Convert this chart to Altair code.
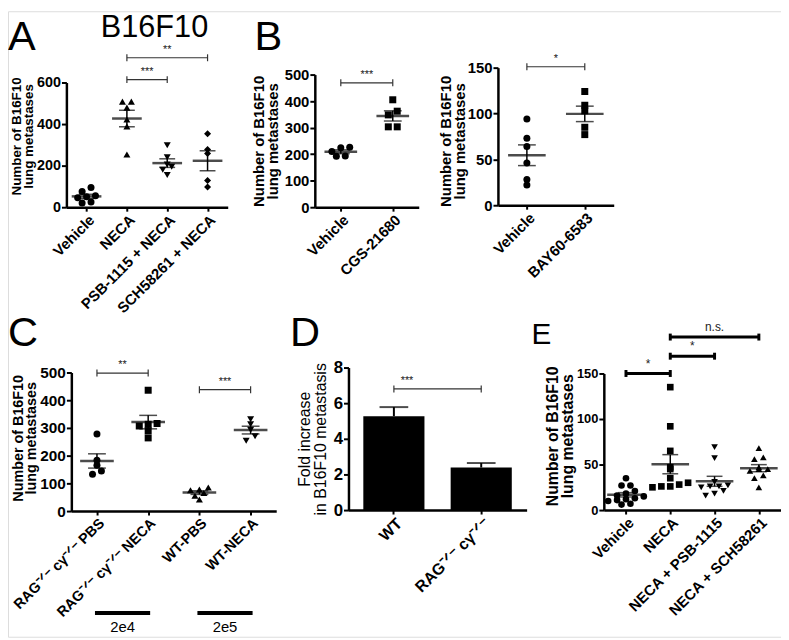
import json
import altair as alt
import pandas as pd

FONT = "Liberation Sans"
W, H = 781, 632

# ---------------- data ----------------
# Panel A
a_cats = ["Vehicle", "NECA", "PSB-1115 + NECA", "SCH58261 + NECA"]
a_vehicle = [75, 95, 55, 50, 20, 25, 45]
a_neca = [508, 508, 479, 422, 389, 254]
a_psb = [298, 240, 205, 195, 180, 155]
a_sch = [354, 278, 259, 129, 97]
a_br_from = ["NECA", "NECA"]
a_br_to = ["PSB-1115 + NECA", "SCH58261 + NECA"]
a_br_y = [614, 719]
a_br_lab = ["***", "**"]

# Panel B (left)
bl_cats = ["Vehicle", "CGS-21680"]
bl_vehicle = [226, 224, 210, 193, 192]
bl_cgs = [405, 362, 348, 303, 303]
bl_br_from = ["Vehicle"]
bl_br_to = ["CGS-21680"]
bl_br_y = [469]
bl_br_lab = ["***"]

# Panel B (right)
br_cats = ["Vehicle", "BAY60-6583"]
br_vehicle = [94, 73, 64, 46, 28, 22]
br_bay = [124, 109, 103, 85, 77]
br_br_from = ["Vehicle"]
br_br_to = ["BAY60-6583"]
br_br_y = [151]
br_br_lab = ["*"]

# Panel C
RAG = "RAG\u207b\u141f\u207b c\u03b3\u207b\u141f\u207b"
c_cats = [RAG + " PBS", RAG + " NECA", "WT-PBS", "WT-NECA"]
c_rag_pbs = [278, 183, 165, 145, 133]
c_rag_neca = [436, 316, 313, 307, 290, 264]
c_wt_pbs = [85, 78, 75, 65, 55, 42]
c_wt_neca = [331, 313, 293, 270, 254]
c_br_from = [c_cats[0], c_cats[2]]
c_br_to = [c_cats[1], c_cats[3]]
c_br_y = [498, 438]
c_br_lab = ["**", "***"]
c_dose_from = [c_cats[0], c_cats[2]]
c_dose_to = [c_cats[1], c_cats[3]]
c_dose_lab = ["2e4", "2e5"]

# Panel D
d_cats = ["WT", RAG]
d_mean = [5.27, 2.39]
d_sem = [0.51, 0.25]
d_br_from = ["WT"]
d_br_to = [RAG]
d_br_y = [6.8]
d_br_lab = ["***"]

# Panel E
e_cats = ["Vehicle", "NECA", "NECA + PSB-1115", "NECA + SCH58261"]
e_vehicle = [35, 27, 27, 21, 18, 16, 15, 13, 12, 11, 10, 7, 6]
e_neca = [135, 92, 65, 47, 45, 35, 30, 28, 26, 26, 25]
e_psb = [69, 57, 31, 27, 26, 26, 25, 21, 18, 16]
e_sch = [68, 58, 56, 47, 45, 45, 43, 38, 35, 25]
e_br_from = ["Vehicle", "NECA", "NECA"]
e_br_to = ["NECA", "NECA + PSB-1115", "NECA + SCH58261"]
e_br_y = [150, 169, 190]
e_br_lab = ["*", "*", "n.s."]


def make_axes(cats, xr, yr, ymax, yticks, ytitle, lsize, tsize, xlsize,
              tweight="bold", scale_type="point", pin=0.3, pout=0.17,
              tpad=4, tlh=None, title_y=None):
    if scale_type == "point":
        xs = alt.Scale(type="point", domain=cats, range=list(xr), padding=0.5)
        step = (xr[1] - xr[0]) / len(cats)
    else:
        xs = alt.Scale(type="band", domain=cats, range=list(xr),
                       paddingInner=pin, paddingOuter=pout)
        step = (xr[1] - xr[0]) / (len(cats) - pin + 2 * pout)
    ys = alt.Scale(domain=[0, ymax], range=[yr[0], yr[1]], nice=False, zero=False)
    xax = alt.Axis(orient="bottom", offset=yr[0] - H, title=None, labelAngle=-45,
                   labelAlign="right", labelBaseline="top", grid=False,
                   domainColor="black", domainWidth=2.5, tickColor="black",
                   tickWidth=2, tickSize=4, labelFont=FONT, labelFontSize=xlsize,
                   labelFontWeight="bold", labelColor="black", labelPadding=1)
    yargs = dict(orient="left", offset=-xr[0], title=ytitle, values=yticks,
                 grid=False, domainColor="black", domainWidth=2.5,
                 tickColor="black", tickWidth=2, tickSize=5, labelFont=FONT,
                 labelFontSize=lsize, labelFontWeight="bold", labelColor="black",
                 labelPadding=1, labelFlush=False, titleFont=FONT,
                 titleFontSize=tsize, titleFontWeight=tweight, titleColor="black",
                 titlePadding=tpad, titleLineHeight=tlh if tlh else tsize)
    if title_y is not None:
        yargs["titleY"] = title_y
    yax = alt.Axis(**yargs)

    def X(field="cat"):
        return alt.X(f"{field}:N", scale=xs, axis=xax)

    def Y(field):
        return alt.Y(f"{field}:Q", scale=ys, axis=yax)

    return X, Y, step


def brackets(X, Y, cats, step, ppu, frm, to, yv, lab, width, fsize, cap=3.5):
    bdf = pd.DataFrame({"c1": frm, "c2": to, "yv": yv, "lab": lab})
    d = cap / ppu
    arr = json.dumps(cats)
    base = alt.Chart(bdf).transform_calculate(
        ylo=f"datum.yv-{d}", yhi=f"datum.yv+{d}",
        toff=f"(indexof({arr}, datum.c2)-indexof({arr}, datum.c1))*{step}/2")
    col = "black" if width > 2 else "#333333"
    hl = base.mark_rule(strokeWidth=width, color=col).encode(
        x=X("c1"), x2=alt.X2("c2"), y=Y("yv"))
    c1 = base.mark_rule(strokeWidth=width, color=col).encode(
        x=X("c1"), y=Y("ylo"), y2=alt.Y2("yhi"))
    c2 = base.mark_rule(strokeWidth=width, color=col).encode(
        x=X("c2"), y=Y("ylo"), y2=alt.Y2("yhi"))
    tx = base.mark_text(font=FONT, fontSize=fsize, color="#222222",
                        baseline="bottom", dy=-3).encode(
        x=X("c1"), xOffset=alt.XOffset("toff:Q", scale=None), y=Y("yv"),
        text="lab:N")
    return [hl, c1, c2, tx]


def dot_panel(cats, groups, shapes, xr, yr, ymax, yticks, ytitle, br,
              mean_w, cap_w, lsize, tsize, xlsize, bw=1.2, bfs=11, msize=50,
              tpad=4, tlh=None, title_y=None):
    rows = [(c, v) for c, vals in zip(cats, groups) for v in vals]
    df = pd.DataFrame(rows, columns=["cat", "value"])
    ppu = (yr[0] - yr[1]) / ymax
    X, Y, step = make_axes(cats, xr, yr, ymax, yticks, ytitle, lsize, tsize, xlsize,
                           tpad=tpad, tlh=tlh, title_y=title_y)
    pts = (alt.Chart(df)
           .transform_calculate(b=f"floor(datum.value*{ppu}/7)")
           .transform_window(rk="row_number()", groupby=["cat", "b"],
                             sort=[alt.SortField("value", order="ascending")])
           .transform_joinaggregate(n="count()", groupby=["cat", "b"])
           .transform_calculate(off="(datum.rk-(datum.n+1)/2)*9")
           .mark_point(filled=True, size=msize, opacity=1, color="black", strokeWidth=0)
           .encode(x=X(), y=Y("value"),
                   xOffset=alt.XOffset("off:Q", scale=None),
                   shape=alt.Shape("cat:N", scale=alt.Scale(domain=cats, range=shapes),
                                   legend=None)))
    agg = (alt.Chart(df)
           .transform_aggregate(m="mean(value)", se="stderr(value)", groupby=["cat"])
           .transform_calculate(lo="datum.m-datum.se", hi="datum.m+datum.se"))
    mean_t = agg.mark_tick(size=mean_w, thickness=2.5, color="black").encode(x=X(), y=Y("m"))
    err = agg.mark_rule(strokeWidth=1.5, color="black").encode(x=X(), y=Y("lo"), y2=alt.Y2("hi"))
    cap_lo = agg.mark_tick(size=cap_w, thickness=1.5, color="black").encode(x=X(), y=Y("lo"))
    cap_hi = agg.mark_tick(size=cap_w, thickness=1.5, color="black").encode(x=X(), y=Y("hi"))
    layers = [pts, err, cap_lo, cap_hi, mean_t]
    layers += brackets(X, Y, cats, step, ppu, *br, width=bw, fsize=bfs)
    return alt.layer(*layers), X, Y, step


TITLE = ["Number of B16F10", "lung metastases"]

pA, _, _, _ = dot_panel(a_cats, [a_vehicle, a_neca, a_psb, a_sch],
                        ["circle", "triangle-up", "triangle-down", "diamond"],
                        (59, 222), (198, 72), 600, [0, 200, 400, 600], TITLE,
                        (a_br_from, a_br_to, a_br_y, a_br_lab), 30, 16, 14.5, 13.5, 15,
                        tpad=1, tlh=12.5, title_y=126)

pBL, _, _, _ = dot_panel(bl_cats, [bl_vehicle, bl_cgs], ["circle", "square"],
                         (310, 415), (198, 64), 500, [0, 100, 200, 300, 400, 500], TITLE,
                         (bl_br_from, bl_br_to, bl_br_y, bl_br_lab), 33, 18, 15, 15, 15,
                         tpad=4, tlh=14)

pBR, _, _, _ = dot_panel(br_cats, [br_vehicle, br_bay], ["circle", "square"],
                         (495, 612), (196, 57), 150, [0, 50, 100, 150], TITLE,
                         (br_br_from, br_br_to, br_br_y, br_br_lab), 38, 18, 15, 15, 15,
                         tpad=0, tlh=14, title_y=131)

pC, XC, YC, stepC = dot_panel(c_cats, [c_rag_pbs, c_rag_neca, c_wt_pbs, c_wt_neca],
                              ["circle", "square", "triangle-up", "triangle-down"],
                              (64, 271), (505, 365), 500, [0, 100, 200, 300, 400, 500], TITLE,
                              (c_br_from, c_br_to, c_br_y, c_br_lab), 34, 18, 15.5, 14.5, 14.5,
                              tpad=1, tlh=13.5, title_y=431)

# dose bars below panel C
dose_df = pd.DataFrame({"c1": c_dose_from, "c2": c_dose_to, "lab": c_dose_lab})
arrC = json.dumps(c_cats)
dose_base = alt.Chart(dose_df).transform_calculate(
    toff=f"(indexof({arrC}, datum.c2)-indexof({arrC}, datum.c1))*{stepC}/2")
dose_line = dose_base.mark_rule(strokeWidth=4, color="black", strokeCap="square").encode(
    x=XC("c1"), x2=alt.X2("c2"), y=alt.value(608))
dose_txt = dose_base.mark_text(font=FONT, fontSize=15, color="black", baseline="middle").encode(
    x=XC("c1"), xOffset=alt.XOffset("toff:Q", scale=None), y=alt.value(622), text="lab:N")
pC = alt.layer(pC, dose_line, dose_txt)

pE, _, _, _ = dot_panel(e_cats, [e_vehicle, e_neca, e_psb, e_sch],
                        ["circle", "square", "triangle-down", "triangle-up"],
                        (602, 781), (504, 366), 150, [0, 50, 100, 150], TITLE,
                        (e_br_from, e_br_to, e_br_y, e_br_lab), 38, 16, 13, 16, 15,
                        bw=3, bfs=12, msize=45, tpad=1, tlh=15, title_y=429)

# Panel D (bar chart)
XD, YD, stepD = make_axes(d_cats, (344, 524), (504, 360), 8, [0, 2, 4, 6, 8],
                          ["Fold increase", "in B16F10 metastasis"], 17, 16, 16,
                          tweight="normal", scale_type="band", pin=0.3, pout=0.17,
                          tpad=5, tlh=16)
ddf = pd.DataFrame({"cat": d_cats, "m": d_mean, "se": d_sem})
dbase = alt.Chart(ddf).transform_calculate(hi="datum.m+datum.se")
d_bars = dbase.mark_bar(color="black").encode(x=XD(), y=YD("m"))
d_err = dbase.mark_rule(strokeWidth=2, color="black").encode(x=XD(), y=YD("m"), y2=alt.Y2("hi"))
d_cap = dbase.mark_tick(size=29, thickness=2, color="black").encode(x=XD(), y=YD("hi"))
pD = alt.layer(d_bars, d_err, d_cap,
               *brackets(XD, YD, d_cats, stepD, 144 / 8, d_br_from, d_br_to, d_br_y,
                         d_br_lab, width=1.2, fsize=11))


# panel letters and title
def label(txt, x, y, size):
    return alt.Chart(pd.DataFrame({"t": [txt]})).mark_text(
        font=FONT, fontSize=size, color="black", align="left", baseline="alphabetic"
    ).encode(text="t:N", x=alt.value(x), y=alt.value(y))


letters = [label("A", 0, 39, 42), label("B", 249, 39, 42), label("C", 0, 338, 42),
           label("D", 285, 338, 42), label("E", 529, 336, 30)]
title = alt.Chart(pd.DataFrame({"t": ["B16F10"]})).mark_text(
    font=FONT, fontSize=31, color="black", align="center", baseline="alphabetic"
).encode(text="t:N", x=alt.value(148), y=alt.value(26))

chart = (alt.layer(pA, pBL, pBR, pC, pD, pE, title, *letters)
         .resolve_scale(x="independent", y="independent", shape="independent")
         .resolve_axis(x="independent", y="independent")
         .properties(width=W, height=H, padding=0,
                     autosize=alt.AutoSizeParams(type="none"))
         .configure_view(stroke=None)
         .configure(background="white"))

chart.save("out.html", embed_options={"renderer": "svg", "actions": False})
